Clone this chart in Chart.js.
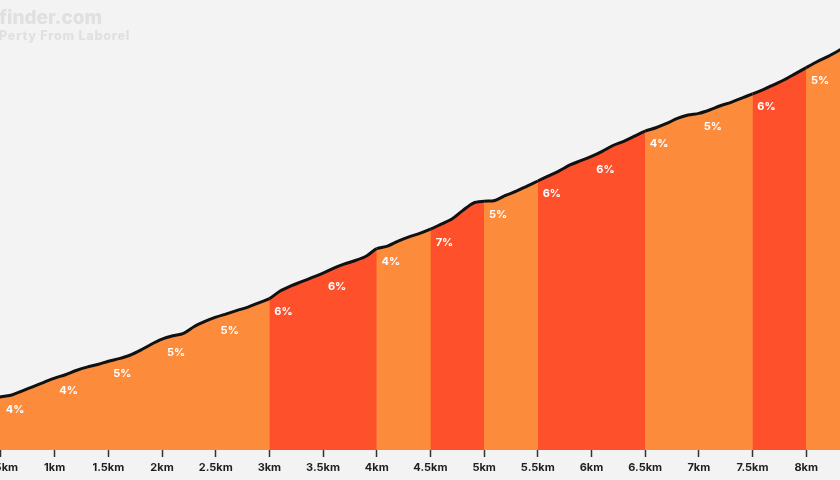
<!DOCTYPE html>
<html>
<head>
<meta charset="utf-8">
<script src="https://cdn.jsdelivr.net/npm/chart.js@4.4.1/dist/chart.umd.min.js"></script>
<style>
  html, body { margin: 0; padding: 0; background: #f3f3f3; overflow: hidden; }
  #wrap { position: absolute; left: 0; top: 0; width: 840px; height: 480px; }
</style>
</head>
<body>
<div id="wrap"><canvas id="c" width="840" height="480"></canvas></div>
<script>
// ---- data ----
const distances = [0.0,0.1,0.2,0.3,0.4,0.5,0.6,0.7,0.8,0.9,1.0,1.1,1.2,1.3,1.4,1.5,1.6,1.7,1.8,1.9,2.0,2.1,2.2,2.3,2.4,2.5,2.6,2.7,2.8,2.9,3.0,3.1,3.2,3.3,3.4,3.5,3.6,3.7,3.8,3.9,4.0,4.1,4.2,4.3,4.4,4.5,4.6,4.7,4.8,4.9,5.0,5.1,5.2,5.3,5.4,5.5,5.6,5.7,5.8,5.9,6.0,6.1,6.2,6.3,6.4,6.5,6.6,6.7,6.8,6.9,7.0,7.1,7.2,7.3,7.4,7.5,7.6,7.7,7.8,7.9,8.0,8.1,8.2,8.3,8.4];
const elevations = [873,877,881,885,889,893,895,900,905,910,915,919,924,928,931,935,938,942,948,955,961,965,968,976,982,987,991,995,999,1004,1009,1018,1024,1029,1034,1039,1045,1050,1054,1059,1068,1071,1077,1082,1086,1091,1097,1103,1113,1122,1124,1125,1131,1136,1142,1148,1154,1160,1167,1172,1177,1183,1190,1195,1201,1207,1211,1216,1222,1226,1228,1232,1237,1241,1246,1251,1256,1262,1268,1275,1282,1289,1295,1302,1308];
const segmentStarts = [0,0.5,1,1.5,2,2.5,3,3.5,4,4.5,5,5.5,6,6.5,7,7.5,8];
const segmentGrades = [4,4,4,5,5,5,6,6,4,7,5,6,6,4,5,6,5];
const headerTitle = "finder.com";
const headerSubtitle = "Perty From Laborel";

// ---- styles ----
const ORANGE = '#fd8b3c';
const RED = '#fe512b';
function gradeColor(g) { return g >= 6 ? RED : ORANGE; }
function segIndex(x) { return Math.min(segmentStarts.length - 1, Math.floor(x / 0.5 + 1e-6)); }

const points = distances.map((d, i) => ({ x: d, y: elevations[i] }));

const labelPlugin = {
  id: 'gradeLabels',
  afterDatasetsDraw(chart) {
    const { ctx, scales: { x, y } } = chart;
    ctx.save();
    ctx.fillStyle = '#ffffff';
    ctx.font = 'bold 11px Inter, "Open Sans", sans-serif';
    ctx.textAlign = 'center';
    ctx.textBaseline = 'middle';
    segmentStarts.forEach((s, i) => {
      const idx = distances.findIndex(d => Math.abs(d - s) < 1e-6);
      const px = x.getPixelForValue(s) + 14;
      const py = y.getPixelForValue(elevations[idx]) + 13;
      ctx.fillText(segmentGrades[i] + '%', px, py);
    });
    ctx.restore();
  }
};

const headerPlugin = {
  id: 'header',
  beforeDatasetsDraw(chart) {
    const { ctx } = chart;
    ctx.save();
    ctx.fillStyle = '#e0e0e0';
    ctx.textAlign = 'left';
    ctx.textBaseline = 'alphabetic';
    ctx.font = '800 19px Inter, "Open Sans", sans-serif';
    ctx.fillText(headerTitle, -1, 24);
    ctx.font = '800 12.5px Inter, "Open Sans", sans-serif';
    if ('letterSpacing' in ctx) ctx.letterSpacing = '0.8px';
    ctx.fillText(headerSubtitle, -1, 40);
    ctx.restore();
  }
};

const bgPlugin = {
  id: 'bg',
  beforeDraw(chart) {
    const { ctx, width, height } = chart;
    ctx.save();
    ctx.fillStyle = '#f3f3f3';
    ctx.fillRect(0, 0, width, height);
    ctx.restore();
  }
};

new Chart(document.getElementById('c'), {
  type: 'line',
  data: {
    datasets: [{
      // coloured gradient bands + profile line
      data: points,
      order: 1,
      borderColor: '#111111',
      borderWidth: 3,
      pointRadius: 0,
      tension: 0.3,
      fill: 'start',
      backgroundColor: ORANGE,
      segment: {
        backgroundColor: ctx => gradeColor(segmentGrades[segIndex(ctx.p0.parsed.x)])
      }
    }, {
      // base fill underneath (hides seams between bands)
      data: points,
      order: 2,
      borderWidth: 0,
      borderColor: 'rgba(0,0,0,0)',
      pointRadius: 0,
      tension: 0.3,
      fill: 'start',
      backgroundColor: ORANGE
    }]
  },
  options: {
    responsive: false,
    animation: false,
    layout: { padding: 0, autoPadding: false },
    plugins: { legend: { display: false }, tooltip: { enabled: false }, title: { display: false } },
    scales: {
      x: {
        type: 'linear',
        min: 0.4907,
        max: 8.315,
        border: { display: false },
        grid: { drawOnChartArea: false, drawTicks: true, tickLength: 7, tickColor: '#333333', tickWidth: 1.5 },
        ticks: {
          stepSize: 0.5,
          includeBounds: false,
          autoSkip: false,
          maxRotation: 0,
          padding: 4,
          color: '#1f1f1f',
          font: { family: 'Inter, "Open Sans", sans-serif', weight: 'bold', size: 11 },
          callback: v => v + 'km'
        },
        afterFit: scale => { scale.paddingLeft = 0; scale.paddingRight = 0; scale.height = 30; }
      },
      y: { type: 'linear', display: false, min: 830, max: 1362 }
    }
  },
  plugins: [bgPlugin, headerPlugin, labelPlugin]
});
</script>
</body>
</html>
